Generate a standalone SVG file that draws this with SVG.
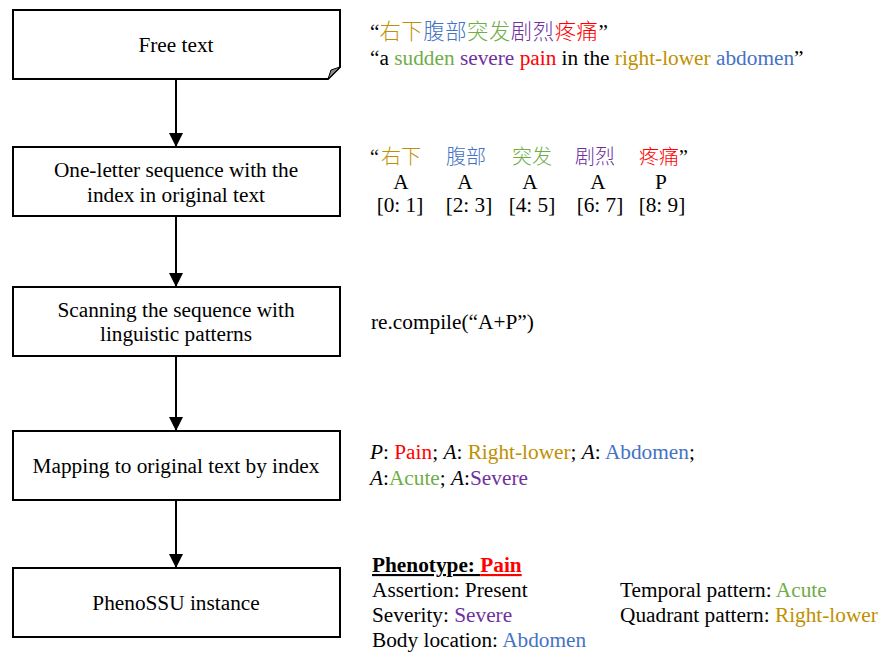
<svg xmlns="http://www.w3.org/2000/svg" width="882" height="653" viewBox="0 0 882 653">
<style>
  text { font-family: "Liberation Serif", "Noto Sans CJK SC", serif; font-size: 21.3px; fill: #000; }
  .box { fill: #fff; stroke: #000; stroke-width: 2; }
  .lbl { text-anchor: middle; }
  .conn { stroke: #000; stroke-width: 2; fill: none; marker-end: url(#arrow); }
  .gold { fill: #BF9000; }
  .blue { fill: #4472C4; }
  .green { fill: #70AD47; }
  .purple { fill: #7030A0; }
  .red { fill: #FF0000; }
  .it { font-style: italic; }
  .ul { text-decoration: underline; }
  .mid { text-anchor: middle; }
  .cjk { font-weight: 300; }
</style>
<defs>
  <marker id="arrow" markerUnits="userSpaceOnUse" markerWidth="14" markerHeight="14" refX="14" refY="7" orient="auto">
    <path d="M0,0 L14,7 L0,14 Z" fill="#000"/>
  </marker>
</defs>
<rect width="882" height="653" fill="#fff"/>

<g id="connectors">
  <line class="conn" x1="176" y1="79" x2="176" y2="147"/>
  <line class="conn" x1="176" y1="216" x2="176" y2="287"/>
  <line class="conn" x1="176" y1="356" x2="176" y2="431"/>
  <line class="conn" x1="176" y1="500" x2="176" y2="568"/>
</g>

<g id="node-free-text">
  <path class="box" d="M13,10 H340 V67 L328,79 H13 Z"/>
  <path d="M328,79 L331,70 L340,67 Z" fill="#888" stroke="#000" stroke-width="1"/>
  <text class="lbl" x="176" y="52">Free text</text>
</g>

<g id="node-one-letter">
  <rect class="box" x="13" y="147" width="327" height="69"/>
  <text class="lbl" x="176" y="177">One-letter sequence with the</text>
  <text class="lbl" x="176" y="202">index in original text</text>
</g>

<g id="node-scanning">
  <rect class="box" x="13" y="287" width="327" height="69"/>
  <text class="lbl" x="176" y="317">Scanning the sequence with</text>
  <text class="lbl" x="176" y="341">linguistic patterns</text>
</g>

<g id="node-mapping">
  <rect class="box" x="13" y="431" width="327" height="69"/>
  <text class="lbl" x="176" y="473">Mapping to original text by index</text>
</g>

<g id="node-phenossu">
  <rect class="box" x="13" y="568" width="327" height="69"/>
  <text class="lbl" x="176" y="610">PhenoSSU instance</text>
</g>

<g id="annotation-free-text">
  <text x="370" y="39">“<tspan class="cjk gold" letter-spacing="0.6">右下</tspan><tspan class="cjk blue" letter-spacing="0.6">腹部</tspan><tspan class="cjk green" letter-spacing="0.6">突发</tspan><tspan class="cjk purple" letter-spacing="0.6">剧烈</tspan><tspan class="cjk red" letter-spacing="0.6">疼痛</tspan>”</text>
  <text x="370" y="65">“a <tspan class="green">sudden</tspan> <tspan class="purple">severe</tspan> <tspan class="red">pain</tspan> in the <tspan class="gold">right-lower</tspan> <tspan class="blue">abdomen</tspan>”</text>
</g>

<g id="annotation-one-letter">
  <text x="370" y="164" style="font-size:20px">“</text>
  <text x="381" y="164" class="cjk gold" style="font-size:20px">右下</text>
  <text x="446" y="164" class="cjk blue" style="font-size:20px">腹部</text>
  <text x="512" y="164" class="cjk green" style="font-size:20px">突发</text>
  <text x="575" y="164" class="cjk purple" style="font-size:20px">剧烈</text>
  <text x="639" y="164" class="cjk red" style="font-size:20px">疼痛</text>
  <text x="679" y="164" style="font-size:20px">”</text>
  <text class="mid" x="401" y="189">A</text>
  <text class="mid" x="465" y="189">A</text>
  <text class="mid" x="530" y="189">A</text>
  <text class="mid" x="598" y="189">A</text>
  <text class="mid" x="661" y="189">P</text>
  <text class="mid" x="400" y="212">[0: 1]</text>
  <text class="mid" x="469" y="212">[2: 3]</text>
  <text class="mid" x="532" y="212">[4: 5]</text>
  <text class="mid" x="600" y="212">[6: 7]</text>
  <text class="mid" x="662" y="212">[8: 9]</text>
</g>

<g id="annotation-scanning">
  <text x="371" y="329">re.compile(“A+P”)</text>
</g>

<g id="annotation-mapping">
  <text x="370" y="459"><tspan class="it">P</tspan>: <tspan class="red">Pain</tspan>; <tspan class="it">A</tspan>: <tspan class="gold">Right-lower</tspan>; <tspan class="it">A</tspan>: <tspan class="blue">Abdomen</tspan>;</text>
  <text x="370" y="485"><tspan class="it">A</tspan>:<tspan class="green">Acute</tspan>; <tspan class="it">A</tspan>:<tspan class="purple">Severe</tspan></text>
</g>

<g id="annotation-phenossu">
  <text x="372" y="572" style="font-weight:bold"><tspan class="ul">Phenotype: </tspan><tspan class="red ul">Pain</tspan></text>
  <text x="372" y="597">Assertion: Present</text>
  <text x="372" y="622">Severity: <tspan class="purple">Severe</tspan></text>
  <text x="372" y="647">Body location: <tspan class="blue">Abdomen</tspan></text>
  <text x="620" y="597">Temporal pattern: <tspan class="green">Acute</tspan></text>
  <text x="620" y="622">Quadrant pattern: <tspan class="gold">Right-lower</tspan></text>
</g>
</svg>
